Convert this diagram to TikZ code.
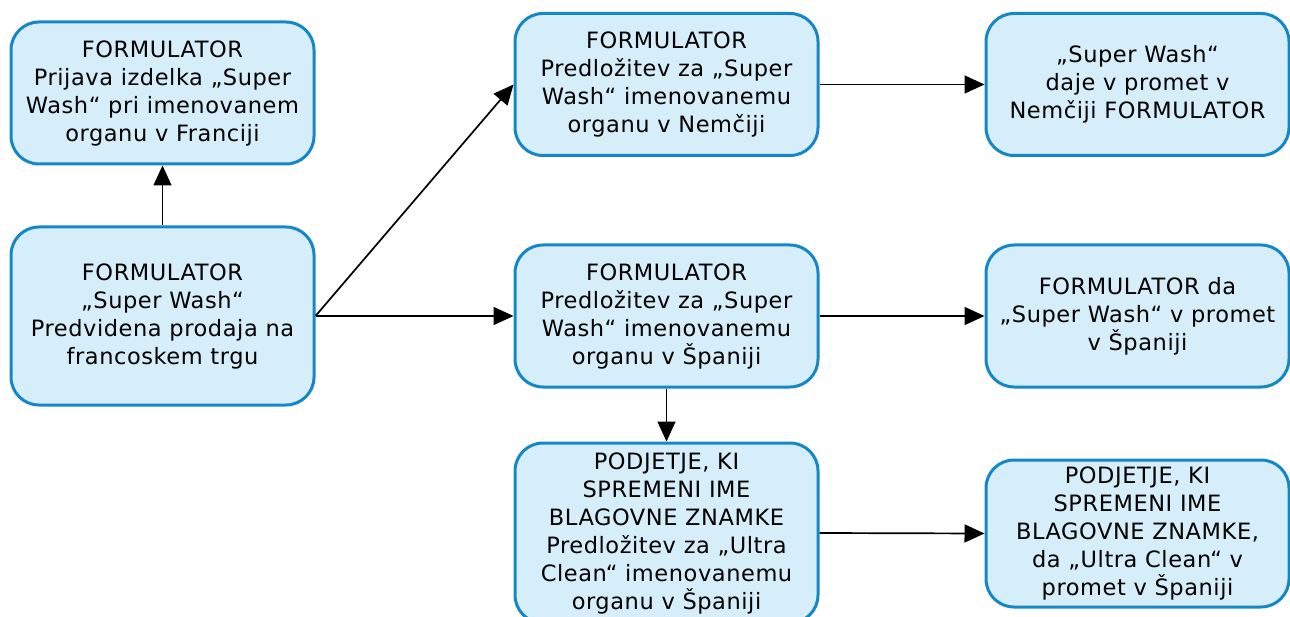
\documentclass[tikz,border=0pt]{standalone}
\usepackage{fontspec}
\usetikzlibrary{arrows.meta}
\newfontfamily\boxfont{DejaVu Sans}[LetterSpace=2.5]
\definecolor{boxfill}{RGB}{214,237,250}
\definecolor{boxline}{RGB}{22,135,198}
\begin{document}
\begin{tikzpicture}[x=1pt,y=-1pt,
  box/.style={draw=boxline, fill=boxfill, line width=3pt, rounded corners=28pt,
    minimum width=303pt, minimum height=142pt, align=center, inner sep=0pt,
    font={\boxfont\fontsize{22.5pt}{28pt}\selectfont}},
  arr/.style={line width=1.7pt, -{Triangle[length=20pt,width=18pt]}}]
\useasboundingbox (0,0) rectangle (1290,617);

% boxes
\node[box] (A) at (162.5,93) {FORMULATOR\\Prijava izdelka „Super\\Wash“ pri imenovanem\\organu v Franciji};
\node[box, minimum height=178pt] (B) at (162.5,316) {FORMULATOR\\„Super Wash“\\Predvidena prodaja na\\francoskem trgu};
\node[box] (C) at (666.5,84.5) {FORMULATOR\\Predložitev za „Super\\Wash“ imenovanemu\\organu v Nemčiji};
\node[box] (D) at (1137.5,84.5) {„Super Wash“\\daje v promet v\\Nemčiji FORMULATOR};
\node[box] (E) at (666.5,316) {FORMULATOR\\Predložitev za „Super\\Wash“ imenovanemu\\organu v Španiji};
\node[box] (F) at (1137.5,316) {FORMULATOR da\\„Super Wash“ v promet\\v Španiji};
\node[box, minimum height=180pt] (G) at (666.5,533) {PODJETJE, KI\\SPREMENI IME\\BLAGOVNE ZNAMKE\\Predložitev za „Ultra\\Clean“ imenovanemu\\organu v Španiji};
\node[box, minimum height=147pt] (H) at (1137.5,533.5) {PODJETJE, KI\\SPREMENI IME\\BLAGOVNE ZNAMKE,\\da „Ultra Clean“ v\\promet v Španiji};

% connectors
\draw[arr] (B.north) -- (A.south);
\draw[arr] (B.east) -- (C.west);
\draw[arr] (B.east) -- (E.west);
\draw[arr] (C.east) -- (D.west);
\draw[arr] (E.east) -- (F.west);
\draw[arr] (E.south) -- (G.north);
\draw[arr] (G.east) -- (H.west);
\end{tikzpicture}
\end{document}
